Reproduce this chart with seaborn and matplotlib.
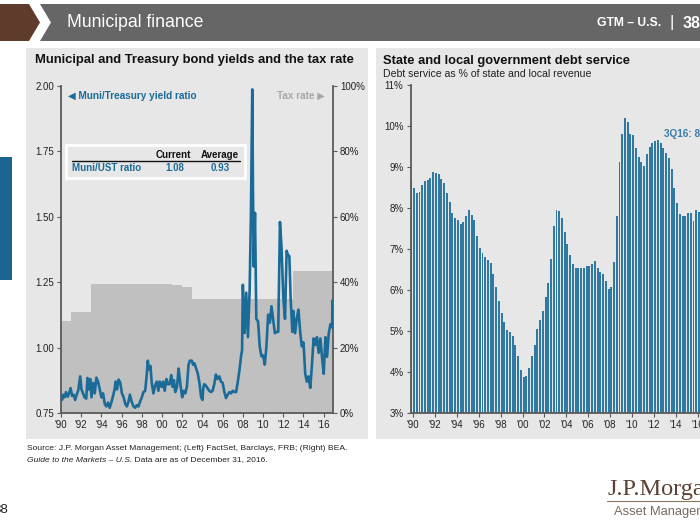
import numpy as np
import pandas as pd
import matplotlib
matplotlib.use("Agg")
import matplotlib.pyplot as plt
from matplotlib.patches import Rectangle, Polygon
from matplotlib.lines import Line2D
import seaborn as sns

# ---------------- data ----------------
ratio_years = [
    1990.00, 1990.10, 1990.22, 1990.35, 1990.50, 1990.65, 1990.80, 1990.95,
    1991.10, 1991.25, 1991.40, 1991.55, 1991.70, 1991.90,
    1992.03, 1992.18, 1992.33, 1992.50, 1992.62, 1992.75, 1992.89,
    1993.02, 1993.18, 1993.34, 1993.50, 1993.67, 1993.84,
    1994.00, 1994.16, 1994.33, 1994.49, 1994.66, 1994.82, 1994.98,
    1995.15, 1995.30, 1995.41, 1995.54, 1995.70, 1995.87,
    1996.03, 1996.20, 1996.36, 1996.52, 1996.69, 1996.82,
    1997.02, 1997.18, 1997.34, 1997.51, 1997.67, 1997.84,
    1998.00, 1998.16, 1998.33, 1998.46, 1998.59, 1998.72, 1998.85, 1998.98,
    1999.15, 1999.31, 1999.48, 1999.64, 1999.77, 1999.97,
    2000.10, 2000.26, 2000.43, 2000.59, 2000.75, 2000.92,
    2001.05, 2001.18, 2001.31, 2001.48, 2001.64, 2001.77, 2001.90,
    2002.00, 2002.16, 2002.30, 2002.46, 2002.62, 2002.75, 2002.95,
    2003.08, 2003.21, 2003.41, 2003.54, 2003.70, 2003.87,
    2004.00, 2004.08, 2004.17, 2004.33, 2004.50, 2004.67, 2004.83,
    2005.00, 2005.17, 2005.33, 2005.50, 2005.67, 2005.83,
    2006.00, 2006.17, 2006.33, 2006.50, 2006.67, 2006.83,
    2007.00, 2007.17, 2007.33, 2007.50, 2007.67, 2007.83, 2007.92,
    2008.00, 2008.10, 2008.17, 2008.33, 2008.50, 2008.67, 2008.80, 2008.93,
    2009.00, 2009.07, 2009.20, 2009.33, 2009.50, 2009.67, 2009.83,
    2010.00, 2010.17, 2010.33, 2010.50, 2010.67, 2010.83,
    2011.00, 2011.17, 2011.33, 2011.50, 2011.67, 2011.83,
    2012.00, 2012.17, 2012.33, 2012.50, 2012.60, 2012.73, 2012.90,
    2013.00, 2013.17, 2013.33, 2013.50, 2013.67, 2013.83,
    2014.00, 2014.17, 2014.33, 2014.50, 2014.67, 2014.83,
    2015.00, 2015.17, 2015.33, 2015.50, 2015.67, 2015.83,
    2016.00, 2016.17, 2016.33, 2016.50, 2016.67, 2016.83, 2016.88, 2016.92,
]
ratio_values = [
    0.820, 0.800, 0.820, 0.810, 0.830, 0.812, 0.825, 0.845,
    0.815, 0.820, 0.800, 0.820, 0.835, 0.890,
    0.840, 0.825, 0.810, 0.805, 0.884, 0.840, 0.880,
    0.810, 0.865, 0.825, 0.885, 0.870, 0.840,
    0.810, 0.825, 0.785, 0.775, 0.790, 0.770, 0.790,
    0.815, 0.840, 0.870, 0.840, 0.878, 0.865,
    0.825, 0.810, 0.785, 0.775, 0.795, 0.820,
    0.790, 0.775, 0.770, 0.780, 0.775, 0.795,
    0.810, 0.830, 0.835, 0.885, 0.950, 0.915, 0.930, 0.865,
    0.825, 0.855, 0.870, 0.835, 0.870, 0.850,
    0.870, 0.835, 0.880, 0.860, 0.860, 0.895,
    0.850, 0.875, 0.830, 0.850, 0.920, 0.875, 0.835,
    0.810, 0.835, 0.825, 0.850, 0.934, 0.950, 0.950,
    0.934, 0.940, 0.915, 0.900, 0.865, 0.810,
    0.800, 0.845, 0.860, 0.855, 0.845, 0.835, 0.830,
    0.835, 0.860, 0.897, 0.880, 0.890, 0.870,
    0.865, 0.830, 0.807, 0.820, 0.830, 0.825,
    0.835, 0.830, 0.830, 0.870, 0.916, 0.970, 0.990,
    1.240, 1.100, 1.056, 1.210, 1.040, 1.220, 1.515, 1.987,
    1.600, 1.310, 1.515, 1.110, 1.100, 1.005, 0.967,
    0.970, 0.935, 1.005, 1.126, 1.095, 1.158,
    1.105, 1.055, 1.060, 1.060, 1.480, 1.380,
    1.190, 1.110, 1.370, 1.350, 1.350, 1.185, 1.060,
    1.140, 1.055, 1.110, 1.145, 1.060, 1.005,
    1.020, 0.900, 0.870, 0.890, 0.846, 0.930,
    1.035, 1.010, 1.040, 0.980, 1.035, 0.965,
    0.900, 1.040, 0.965, 1.055, 1.090, 1.077, 1.180, 1.080,
]
tax_years = [1990, 1991, 1993, 2001, 2002, 2003, 2013, 2016.92]
tax_rates = [28.0, 31.0, 39.6, 39.1, 38.6, 35.0, 43.4, 43.4]

ratio_ticks = [0.75, 1.00, 1.25, 1.50, 1.75, 2.00]
tax_ticks = [0, 20, 40, 60, 80, 100]
year_ticks = list(range(1990, 2017, 2))
year_labels = ["'90", "'92", "'94", "'96", "'98", "'00", "'02", "'04",
               "'06", "'08", "'10", "'12", "'14", "'16"]
current_ratio = 1.08
average_ratio = 0.93

debt_first_year = 1990
debt_service = [
    8.65, 8.49, 8.37, 8.38,  8.57, 8.65, 8.69, 8.73,  8.87, 8.86, 8.82, 8.71,
    8.60, 8.37, 8.14, 7.88,  7.76, 7.70, 7.62, 7.67,  7.80, 7.96, 7.84, 7.70,
    7.32, 7.02, 6.90, 6.80,  6.74, 6.65, 6.39, 6.08,  5.72, 5.43, 5.21, 5.02,
    4.98, 4.88, 4.66, 4.39,  4.06, 3.88, 3.91, 4.10,  4.39, 4.66, 5.04, 5.27,
    5.49, 5.82, 6.17, 6.76,  7.57, 7.95, 7.92, 7.75,  7.41, 7.11, 6.86, 6.64,
    6.54, 6.54, 6.54, 6.54,  6.58, 6.58, 6.64, 6.71,  6.54, 6.44, 6.38, 6.21,
    6.02, 6.07, 6.68, 7.81,  9.11, 9.80, 10.20, 10.10, 9.80, 9.77, 9.46, 9.25,
    9.11, 9.03, 9.31, 9.50,  9.59, 9.63, 9.67, 9.58,  9.46, 9.35, 9.21, 8.95,
    8.49, 8.11, 7.85, 7.81,  7.81, 7.87, 7.87, 7.69,  7.95, 7.90, 8.00,
]
debt_ticks = [3, 4, 5, 6, 7, 8, 9, 10, 11]

# ---------------- styling ----------------
sns.set_style("white")
plt.rcParams["font.family"] = ["Liberation Sans", "DejaVu Sans"]

W, H = 700, 525
BLUE = "#1b6b99"
BAR = "#3079a3"
PANEL = "#e7e7e7"
SPINE = "#5a5a5a"
TXT = "#222222"

fig = plt.figure(figsize=(7, 5.25), dpi=100)
fig.patch.set_facecolor("white")


def fx(x):
    return x / W


def fy(y):
    return 1 - y / H


def add_rect(x0, y0, x1, y1, z=-5, **kw):
    fig.add_artist(Rectangle((fx(x0), fy(y1)), (x1 - x0) / W, (y1 - y0) / H,
                             transform=fig.transFigure, zorder=z, **kw))


def add_poly(pts, **kw):
    fig.add_artist(Polygon([(fx(x), fy(y)) for x, y in pts], closed=True,
                           transform=fig.transFigure, zorder=-5, **kw))


# header
add_poly([(0, 4), (29, 4), (40, 22.5), (29, 41), (0, 41)], facecolor="#5f3b2c", lw=0)
add_poly([(40, 4), (705, 4), (705, 41), (40, 41), (51, 22.5)], facecolor="#666666", lw=0)
fig.text(fx(67), fy(22.5), "Municipal finance", color="white", size=12.7,
         va="center", ha="left")
fig.text(fx(597), fy(23), "GTM – U.S.", color="white", size=8.7, weight="bold",
         va="center", ha="left")
fig.text(fx(672), fy(22.5), "|", color="white", size=12,
         va="center", ha="center")
fig.text(fx(683), fy(23), "38", color="white", size=11.5, weight="bold",
         va="center", ha="left")

# side accent
add_rect(0, 157, 12, 280, facecolor="#1b6690", lw=0)

# panels
add_rect(26, 48, 368, 439, facecolor=PANEL, lw=0)
add_rect(376, 48, 705, 439, facecolor=PANEL, lw=0)

# ---------------- left chart ----------------
ax_l = fig.add_axes([fx(61), fy(413), 272 / W, 327 / H])
ax_t = ax_l.twinx()
ax_l.set_zorder(ax_t.get_zorder() + 1)
ax_l.patch.set_visible(False)
ax_t.patch.set_visible(False)

ax_t.fill_between(tax_years, tax_rates, 0, step="post", color="#c0c0c0", lw=0)
ax_t.set_ylim(0, 100)
ax_t.set_yticks(tax_ticks)
ax_t.set_yticklabels([f"{v}%" for v in tax_ticks])

df_ratio = pd.DataFrame({"year": ratio_years, "ratio": ratio_values})
sns.lineplot(data=df_ratio, x="year", y="ratio", ax=ax_l, color=BLUE,
             linewidth=1.9, estimator=None)
ax_l.set_xlim(1990, 2016.92)
ax_l.set_ylim(0.75, 2.0)
ax_l.set_yticks(ratio_ticks)
ax_l.set_yticklabels([f"{v:.2f}" for v in ratio_ticks])
ax_l.set_xticks(year_ticks)
ax_l.set_xticklabels(year_labels)
ax_l.set_xlabel("")
ax_l.set_ylabel("")

for a in (ax_l, ax_t):
    for s in a.spines.values():
        s.set_visible(False)
ax_l.spines["left"].set_visible(True)
ax_l.spines["bottom"].set_visible(True)
ax_t.spines["right"].set_visible(True)
for s in (ax_l.spines["left"], ax_l.spines["bottom"], ax_t.spines["right"]):
    s.set_color(SPINE)
    s.set_linewidth(1.3)
ax_l.tick_params(axis="both", length=3, width=0.8, color=SPINE, labelsize=7,
                 labelcolor=TXT, pad=2, direction="out")
ax_l.tick_params(axis="y", left=True)
ax_l.tick_params(axis="x", bottom=True)
ax_t.tick_params(axis="y", length=3, width=0.8, color=SPINE, labelsize=7,
                 labelcolor=TXT, pad=2, right=True)

fig.text(fx(35), fy(60), "Municipal and Treasury bond yields and the tax rate",
         size=9.4, weight="bold", color="#111111", va="center", ha="left")
fig.text(fx(68), fy(96), "◀ Muni/Treasury yield ratio", size=7.2, weight="bold",
         color=BLUE, va="center", ha="left", family=["Liberation Sans", "DejaVu Sans"])
fig.text(fx(325), fy(96), "Tax rate ▶", size=7.2, weight="bold",
         color="#a8a8a8", va="center", ha="right", family=["Liberation Sans", "DejaVu Sans"])

# summary box
add_rect(66, 145, 245, 178, z=2, facecolor="none", edgecolor="white", lw=2)
fig.text(fx(173), fy(155), "Current", size=7, weight="bold", color="#111111",
         va="center", ha="center")
fig.text(fx(220), fy(155), "Average", size=7, weight="bold", color="#111111",
         va="center", ha="center")
fig.add_artist(Line2D([fx(72), fx(240)], [fy(160.5), fy(160.5)], color="#111111",
                      lw=1, transform=fig.transFigure, zorder=3))
fig.text(fx(72), fy(168), "Muni/UST ratio", size=7, weight="bold", color=BLUE,
         va="center", ha="left")
fig.text(fx(175), fy(168), f"{current_ratio:.2f}", size=7, weight="bold", color=BLUE,
         va="center", ha="center")
fig.text(fx(220), fy(168), f"{average_ratio:.2f}", size=7, weight="bold", color=BLUE,
         va="center", ha="center")

# ---------------- right chart ----------------
ax_r = fig.add_axes([fx(410.5), fy(413), 295.6 / W, 328 / H])
ax_r.patch.set_visible(False)
debt_pos = debt_first_year + 0.25 * np.arange(len(debt_service))
df_debt = pd.DataFrame({"year": debt_pos, "pct": debt_service})
sns.barplot(data=df_debt, x="year", y="pct", native_scale=True, orient="x",
            color=BAR, saturation=1, width=0.72, errorbar=None, linewidth=0,
            ax=ax_r)
ax_r.set_xlim(1989.93, 2016.9)
ax_r.set_ylim(3, 11)
ax_r.set_yticks(debt_ticks)
ax_r.set_yticklabels([f"{v}%" for v in debt_ticks])
ax_r.set_xticks([y + 0.15 for y in year_ticks])
ax_r.set_xticklabels(year_labels)
ax_r.set_xlabel("")
ax_r.set_ylabel("")
for s in ax_r.spines.values():
    s.set_visible(False)
for k in ("left", "bottom"):
    ax_r.spines[k].set_visible(True)
    ax_r.spines[k].set_color(SPINE)
    ax_r.spines[k].set_linewidth(1.3)
ax_r.tick_params(axis="both", length=3, width=0.8, color=SPINE, labelsize=7,
                 labelcolor=TXT, pad=2, direction="out", left=True, bottom=True)

fig.text(fx(383), fy(61), "State and local government debt service", size=9.3,
         weight="bold", color="#111111", va="center", ha="left")
fig.text(fx(383), fy(74), "Debt service as % of state and local revenue", size=7.6,
         color="#222222", va="center", ha="left")
fig.text(fx(664), fy(134), f"3Q16: {debt_service[-1]:.1f}%", size=7.2, weight="bold",
         color="#3a7cab", va="center", ha="left")

# ---------------- footer ----------------
fig.text(fx(27), fy(449), "Source: J.P. Morgan Asset Management; (Left) FactSet, Barclays, FRB; (Right) BEA.",
         size=6.1, color="#222222", va="center", ha="left")
t_it = fig.text(fx(27), fy(460), "Guide to the Markets – U.S.", size=6.1, style="italic",
                color="#222222", va="center", ha="left")
fig.canvas.draw()
bb = t_it.get_window_extent()
fig.text(bb.x1 / W, fy(460), " Data are as of December 31, 2016.", size=6.1,
         color="#222222", va="center", ha="left")

fig.text(fx(8), fy(510), "38", size=9.5, color="#222222", va="center", ha="right")

fig.text(fx(607), fy(489), "J.P.Morgan", size=17.5, color="#5c4033",
         family=["Liberation Serif", "DejaVu Serif"], va="center", ha="left")
fig.add_artist(Line2D([fx(607), fx(705)], [fy(501), fy(501)], color="#8a7565",
                      lw=0.8, transform=fig.transFigure))
fig.text(fx(614), fy(512), "Asset Management", size=9.3, color="#7a6a5e",
         va="center", ha="left")

fig.savefig("out.png", dpi=100)
